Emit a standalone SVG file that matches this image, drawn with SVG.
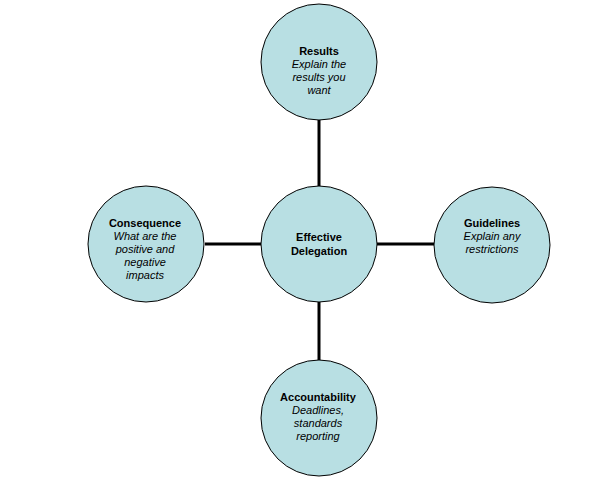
<svg xmlns="http://www.w3.org/2000/svg" width="593" height="489" viewBox="0 0 593 489">
<style>
.node{fill:#b8dfe3;stroke:#000;stroke-width:1}
.conn{stroke:#000;stroke-width:3}
text{font-family:"Liberation Sans",Arial,sans-serif;font-size:11px;fill:#000;text-anchor:middle}
.b{font-weight:bold}
.i{font-style:italic}
</style>
<rect width="593" height="489" fill="#fff"/>
<g id="connectors">
<line class="conn" x1="319" y1="120" x2="319" y2="186"/>
<line class="conn" x1="205" y1="244" x2="261" y2="244"/>
<line class="conn" x1="377" y1="244" x2="434" y2="244"/>
<line class="conn" x1="319" y1="302" x2="319" y2="360"/>
</g>
<g id="center">
<circle class="node" cx="319" cy="244" r="58"/>
<text class="b" x="319" y="241">Effective</text>
<text class="b" x="319" y="255">Delegation</text>
</g>
<g id="results">
<circle class="node" cx="319" cy="62" r="58"/>
<text class="b" x="319" y="55">Results</text>
<text class="i" x="319" y="68">Explain the</text>
<text class="i" x="319" y="81">results you</text>
<text class="i" x="319" y="94">want</text>
</g>
<g id="consequence">
<circle class="node" cx="146" cy="244" r="58"/>
<text class="b" x="145" y="227">Consequence</text>
<text class="i" x="145" y="240">What are the</text>
<text class="i" x="145" y="253">positive and</text>
<text class="i" x="145" y="266">negative</text>
<text class="i" x="145" y="279">impacts</text>
</g>
<g id="guidelines">
<circle class="node" cx="492" cy="245" r="58"/>
<text class="b" x="492" y="227">Guidelines</text>
<text class="i" x="492" y="240">Explain any</text>
<text class="i" x="492" y="253">restrictions</text>
</g>
<g id="accountability">
<circle class="node" cx="319" cy="418" r="58"/>
<text class="b" x="318" y="401">Accountability</text>
<text class="i" x="318" y="414">Deadlines,</text>
<text class="i" x="318" y="427">standards</text>
<text class="i" x="318" y="440">reporting</text>
</g>
</svg>
